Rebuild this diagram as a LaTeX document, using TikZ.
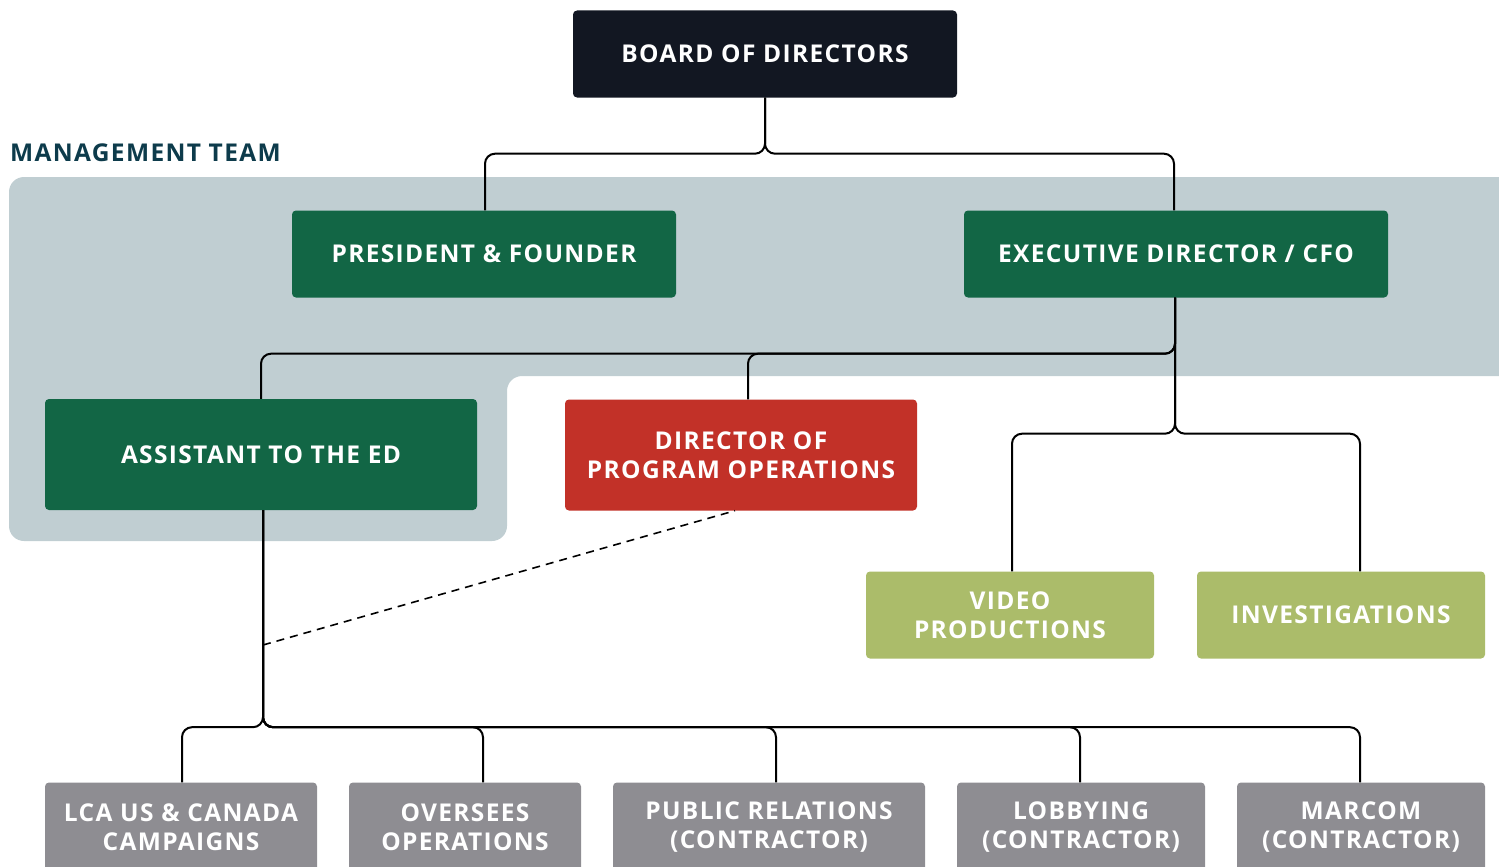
\documentclass[tikz,border=0pt]{standalone}
\usepackage{fontspec}
\newfontfamily\orgfont[LetterSpace=5.5]{Open Sans}
\usepackage{xcolor}
\usepackage{tikz}
\usetikzlibrary{positioning}

\definecolor{boardnavy}{HTML}{121722}
\definecolor{mgmtgreen}{HTML}{126645}
\definecolor{progred}{HTML}{C23128}
\definecolor{olive}{HTML}{ABBC6A}
\definecolor{staffgrey}{HTML}{8E8D92}
\definecolor{bandgrey}{HTML}{C0CED2}
\definecolor{teamteal}{HTML}{0D3B4B}

\begin{document}
\begin{tikzpicture}[x=1pt, y=-1pt,
        box/.style={rectangle, rounded corners=4pt, inner sep=0pt, align=center, text=white,
            minimum height=87pt, font=\orgfont\bfseries\fontsize{24.5}{29}\selectfont},
        board/.style={box, fill=boardnavy},
        mgmt/.style={box, fill=mgmtgreen},
        prog/.style={box, fill=progred},
        unit/.style={box, fill=olive},
        staff/.style={box, fill=staffgrey, minimum height=90pt},
        link/.style={draw, line width=2pt, rounded corners=10pt}]

        \useasboundingbox (0,0) rectangle (1499,867);

        % Band
        \fill[bandgrey, rounded corners=15pt] (9,177) -- (1520,177) -- (1520,376) -- (507,376)
            -- (507,541) -- (9,541) -- cycle;
        \node[anchor=west, text=teamteal, inner sep=0pt,
            font=\orgfont\bfseries\fontsize{24.5}{29}\selectfont]
            (team) at (10,153) {MANAGEMENT TEAM};

        % Nodes
        \node[board, minimum width=384pt] (BoD) at (765,54) {BOARD OF DIRECTORS};
        \node[mgmt, minimum width=384pt] (Pres) at (484,254) {PRESIDENT \& FOUNDER};
        \node[mgmt, minimum width=424pt] (ED) at (1176,254) {EXECUTIVE DIRECTOR / CFO};
        \node[mgmt, minimum width=432pt, minimum height=111pt] (Asst) at (261,454.5) {ASSISTANT TO THE ED};
        \node[prog, minimum width=352pt, minimum height=111pt] (DPO) at (741,455) {DIRECTOR OF\\PROGRAM OPERATIONS};
        \node[unit, minimum width=288pt] (Video) at (1010,615) {VIDEO\\PRODUCTIONS};
        \node[unit, minimum width=288pt] (Invest) at (1341,615) {INVESTIGATIONS};
        \node[staff, minimum width=272pt] (LCA) at (181,827.5) {LCA US \& CANADA\\CAMPAIGNS};
        \node[staff, minimum width=232pt] (Overseas) at (465,827.5) {OVERSEES\\OPERATIONS};
        \node[staff, minimum width=312pt] (PR) at (769,827.5) {PUBLIC RELATIONS\\(CONTRACTOR)};
        \node[staff, minimum width=248pt] (Lobby) at (1081,827.5) {LOBBYING\\(CONTRACTOR)};
        \node[staff, minimum width=248pt] (Marcom) at (1361,827.5) {MARCOM\\(CONTRACTOR)};
        \coordinate[xshift=2pt] (split) at (Asst.south |- 0,645);

        % Edges
        \draw[link] (BoD.south) -- ++(0,56) -| ([xshift=1pt]Pres.north);
        \draw[link] (BoD.south) -- ++(0,56) -| ([xshift=-2pt]ED.north);
        \draw[link] ([xshift=-1pt]ED.south) -- ++(0,56) -| (Asst.north);
        \draw[link] ([xshift=-1pt]ED.south) -- ++(0,56) -| ([xshift=7pt]DPO.north);
        \draw[link] ([xshift=-1pt]ED.south) -- ++(0,136) -| ([xshift=2pt]Video.north);
        \draw[link] ([xshift=-1pt]ED.south) -- ++(0,136) -| ([xshift=19pt]Invest.north);
        \draw[link] ([xshift=2pt]Asst.south) -- ++(0,217) -| ([xshift=1pt]LCA.north);
        \draw[link] ([xshift=2pt]Asst.south) -- ++(0,217) -| ([xshift=18pt]Overseas.north);
        \draw[link] ([xshift=2pt]Asst.south) -- ++(0,217) -| ([xshift=7pt]PR.north);
        \draw[link] ([xshift=2pt]Asst.south) -- ++(0,217) -| ([xshift=-1pt]Lobby.north);
        \draw[link] ([xshift=2pt]Asst.south) -- ++(0,217) -| ([xshift=-1pt]Marcom.north);
        \draw[line width=1.6pt, dash pattern=on 8pt off 6pt] (split) -- ([xshift=-6pt]DPO.south);
    \end{tikzpicture}
\end{document}
